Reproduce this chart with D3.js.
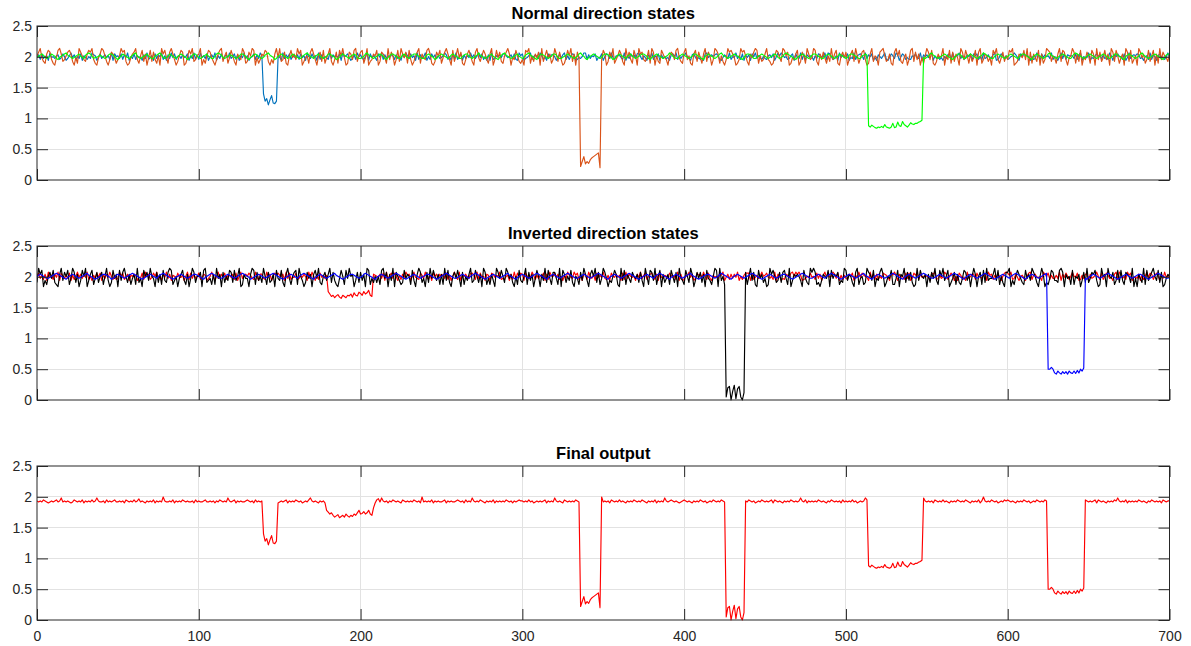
<!DOCTYPE html>
<html>
<head>
<meta charset="utf-8">
<script src="https://cdn.jsdelivr.net/npm/d3@7"></script>
<style>
  body { margin: 0; background: #fff; }
  svg { display: block; font-family: "Liberation Sans", Arial, Helvetica, sans-serif; }
  .grid line { stroke: #e2e2e2; stroke-width: 1; shape-rendering: crispEdges; }
  .axis line { stroke: #262626; }
  .axis text { fill: #262626; font-size: 14px; }
  .box { fill: none; stroke: #262626; stroke-width: 1; }
  .title { font-size: 16.5px; font-weight: bold; fill: #000; }
  .trace { fill: none; stroke-width: 1.15; stroke-linejoin: round; }
</style>
</head>
<body>
<svg id="chart" width="1191" height="646"></svg>
<script>
// ---- axes / labels ----
const xTicks = [0, 100, 200, 300, 400, 500, 600, 700];
const yTicks = [0, 0.5, 1, 1.5, 2, 2.5];
const panelTitles = ["Normal direction states", "Inverted direction states", "Final output"];
const nSamples = 701;

// ---- baseline noise, one digit per sample (4.5 = centre level) ----
const normBlueNoise = `
4728356194 5367248513 6947253816 4253976148 3574629185
6382749153 8264517392 4618375926 1739482563 7458163927
2946381574 9163825749 3582716493 6145827396 8372915464
5193748265 3728461953 8461927354 2937564819 5684137295
7325918464 1849273657 6273518496 3846192735 9152847363
4697251839 2581736494 7369482517 1923657488 6457382196
8134692575 3962518477 5148379262 6871243599 2736581448
1587394266 7429163857 3895264174 9264817353 4178592636
6953178424 2318946757 8621475392 5493628174 7185936425
3267481596 9745236818 4392817565 1638745929 8523619474
5814392678 6293758141 7536921486 3971586242 2658439175
7489163524 1537829466 9362475818 6825193473 4791258636
2356974185 8674152397 1847563925 4159382766 6382791544
9143685727 3429617585 5281493676 8734156292 7516834259
4678259313 8195372646 6924817535 2683941578 1957364824`;

const normOrangeNoise = `
5794216873 1048962357 8620419753 2687931046 9852037641
3597820146 7931582604 8273150968 4179630258 7014869235
6903158742 0368925714 8520643971 2759804136 5872031694
9237105846 3968024517 9630572814 6920371859 4017638925
7814902365 8027641937 5038296471 8302579164 3896102758
1479630825 9471036852 0794258631 6903847215 7960438521
3087915264 7092584613 9627301485 9260741853 0658927413
8602749135 8620947318 5096732481 9705218643 0576389421
7935106827 4169275039 8615203978 6401397852 0647981523
6932015874 2985701436 8027519634 9820637415 2936810574
7036829514 7830169254 0789523610 7958214603 8927360415
9738102645 9053817264 0973851624 8079136524 0869314725
3879012654 8390716428 0613987254 1692873045 9716280437
5186093724 8360972851 4609728135 0974613825 8061937542
6094738215 9037641728 5392016847 9025631874 6290843175`;

const normGreenNoise = `
4567643457 6532456786 5434567543 6787534456 5434677653
2457654346 7854345675 4335678643 4576543567 6542346775
4345675433 5787643456 6543457765 3245676543 4678654235
6765434576 5433567865 4356754345 7765423467 6543567643
3457865434 5676532457 7654346754 3567765433 4676542356
7654346765 4335677543 4568654345 6754324678 6543456754
3467865432 5676543457 7643345676 5434578653 2456765434
6776542346 7654356754 3456776532 4567654345 6875433567
6543457765 4325676543 4578654345 6765432467 7653345676
5434567643 4578765432 4567654346 7765433567 6543457654
3467765433 5676543457 7654324676 5434567865 4325676543
4578654345 6765432457 7643356765 4345687654 3356765434
5676543467 7654325676 5434578654 3456765433 5787654345
6765434567 6543457765 4325676543 4578654345 6765432467
7653345676 5434567643 4578765432 4567654346 7765433567`;

const invRedNoise = `
5836271946 2749185363 8162594737 4925163848 1637495262
3958247165 7614382957 2485936174 9371652844 6159283735
8247613595 1593748266 4728159367 5863294177 3294715868
6571938244 8236475193 9517284636 2648371955 7382564914
1964528376 5473819268 3851627496 7159432863 9426185737
4738261595 2916574388 6293845176 1874659232 5617293848
7185349626 3648172955 8472516396 4396825177 2953718464
9326185474 6182937545 1749368257 8527194365 3864529171
2659471386 7495283164 5386914727 3749152688 8172463595
6843529175 1327648959 7961235484 5283716949 4597381626
3275816494 8654193727 2538764196 9617452838 1386927455
5418792363 4972586151 8624193577 2845367196 7263841589
8692374156 3158926744 4197582633 6391748525 9548126377
1734695282 5863417929 7352968144 3716259487 2685173946
4925183767 9281654353 6143729585 8479362114 5317948626`;

const invBlackNoise = `
2968031574 8210693758 1497260385 9036814725 7159302846
0837952614 6192408573 9540726183 2798135046 8316049725
5708923416 1946072538 7283590164 4069817352 9517236084
3820694157 8195302746 0684921573 6927310485 1849560372
7360981425 2518947063 9075312846 5183069724 0729485361
6193820574 8407153692 3852609714 1630974852 9746205183
2591736048 5063928417 7419086253 8205417396 3068592714
9740325861 0938164275 4627309518 7391580624 6185270943
1852960374 7260843159 8093517426 0546293871 5937108462
4019685237 2784190365 6530842197 9712036548 0846571329
8365207914 5129763804 3796025481 1480659273 7201938546
0627493185 9358024716 2148736059 6057182934 4693815207
7903158642 1846397520 5960214873 3289706451 8154603729
2476830195 6095471382 8317652904 0642918357 9538270146
5180927463 3721589064 1209483675 7863105294 2970641538`;

const invBlueNoise = `
5676543345 6787654324 5676543456 7865432345 6776542346
7654345678 7654323456 7654356787 6543234567 6543456776
5432456787 6543345676 5434567876 5423456765 4345678765
4323456765 4356787654 3245676543 4567865432 3456776543
4578765432 4567654345 6787654323 4567654345 6776543234
5678765433 4567654356 7876543234 5676543456 7865432456
7654345678 7654324567 6543456787 6543345676 5434567876
5432456765 4345678765 4323456765 4356787654 3245676543
4567865432 3456776543 4578765432 4567654345 6787654323
4567654345 6776543234 5678765433 4567654356 7876543234
5676543456 7865432456 7654345678 7654324567 6543456787
6543345676 5434567876 5432456765 4345678765 4323456765
4356787654 3245676543 4567865432 3456776543 4578765432
4567654345 6787654323 4567654345 6776543234 5678765433
4567654356 7876543234 5676543456 7865432456 7654345678`;

const finalNoise = `
5454654345 4564584545 4346545463 5454645854 4536454564
4545365454 6457454354 5463545495 4454635454 6545445364
5445644545 3546545485 4563545445 6545364545 4594545463
4545635454 6545345468 5454354549 6454534546 5464545354
6545435465 4548545354 6545436545 4546545394 5454635454
4563545445 6545364548 5454654354 5463545454 6545354565
5454645345 4545635454 8545436545 4546545354 5463545459
4545365454 6454354546 5454654354 5463545485 4565454345
6545435454 6545345465 4546545394 5454635454 6545345465
4545636545 4354546545 4585463545 4546545435 4654545364
5454645345 4586545436 5454546545 3545463545 4546545485
4545365454 6454354546 5454654354 5463595454 6545345465
6545435454 6545345465 4546545354 5454635494 6545345465
4545636545 4354546585 4546354545 4654543546 5454536545
5454645345 4545635454 6545436545 4546545354 5463545459`;

// ---- dips (low state samples) ----
const normBlueDipStart = 140;
const normBlueDip = [1.4, 1.28, 1.32, 1.22, 1.3, 1.37, 1.25, 1.24, 1.28];
const normOrangeDipStart = 336;
const normOrangeDip = [0.22, 0.3, 0.38, 0.26, 0.3, 0.27, 0.33, 0.36, 0.38, 0.4, 0.42, 0.44, 0.2];
const normGreenDipStart = 514;
const normGreenDip = [0.88, 0.86, 0.89, 0.87, 0.85, 0.84, 0.86, 0.85, 0.87, 0.85,
                      0.9, 0.86, 0.85, 0.84, 0.86, 0.92, 0.85, 0.86, 0.94, 0.88,
                      0.87, 0.95, 0.9, 0.88, 0.86, 0.89, 0.93, 0.91, 0.9, 0.92,
                      0.92, 0.94, 0.95, 0.97];
const invRedDipStart = 180;
const invRedDip = [1.76, 1.72, 1.68, 1.7, 1.66, 1.69, 1.71, 1.67, 1.65, 1.7,
                   1.68, 1.66, 1.7, 1.69, 1.72, 1.67, 1.74, 1.7, 1.69, 1.75,
                   1.73, 1.7, 1.76, 1.72, 1.74, 1.78, 1.7, 1.68];
const invBlackDipStart = 426;
const invBlackDip = [0.05, 0.2, 0.22, 0.0, 0.14, 0.24, 0.02, 0.18, 0.22, 0.05, 0.0, 0.12];
const invBlueDipStart = 625;
const invBlueDip = [0.5, 0.5, 0.53, 0.5, 0.44, 0.42, 0.47, 0.44, 0.42, 0.46,
                    0.43, 0.46, 0.42, 0.47, 0.44, 0.43, 0.47, 0.43, 0.48, 0.44,
                    0.5, 0.47, 0.52];
const finalMidStart = 178;
const finalMid = [1.9, 1.78, 1.75, 1.72, 1.74, 1.7, 1.67, 1.69, 1.71, 1.66,
                  1.68, 1.7, 1.67, 1.72, 1.69, 1.67, 1.7, 1.68, 1.72, 1.7,
                  1.74, 1.78, 1.72, 1.73, 1.76, 1.72, 1.74, 1.78, 1.72, 1.7,
                  1.82, 1.9, 1.95, 1.97];

function buildSeries(noise, center, step, dips) {
    const digits = noise.replace(/\s+/g, "").slice(0, nSamples);
    const vals = Array.from(digits, d => center + (+d - 4.5) * step);
    dips.forEach(([start, arr]) => arr.forEach((v, i) => { vals[start + i] = v; }));
    return vals.map((v, i) => [i, v]);
}

const panels = [
    [
        {color: "#0072BD", data: buildSeries(normBlueNoise, 1.995, 0.015, [[normBlueDipStart, normBlueDip]])},
        {color: "#D95319", data: buildSeries(normOrangeNoise, 2.0, 0.03, [[normOrangeDipStart, normOrangeDip]])},
        {color: "#00FF00", data: buildSeries(normGreenNoise, 2.0, 0.018, [[normGreenDipStart, normGreenDip]])}
    ],
    [
        {color: "#FF0000", data: buildSeries(invRedNoise, 2.0, 0.017, [[invRedDipStart, invRedDip]])},
        {color: "#000000", data: buildSeries(invBlackNoise, 1.99, 0.033, [[invBlackDipStart, invBlackDip]])},
        {color: "#0000FF", data: buildSeries(invBlueNoise, 2.0, 0.016, [[invBlueDipStart, invBlueDip]])}
    ],
    [
        {color: "#FF0000", data: buildSeries(finalNoise, 1.925, 0.016, [
            [normBlueDipStart, normBlueDip],
            [finalMidStart, finalMid],
            [normOrangeDipStart, normOrangeDip],
            [invBlackDipStart, invBlackDip],
            [normGreenDipStart, normGreenDip],
            [invBlueDipStart, invBlueDip]
        ])}
    ]
];

// ---- layout ----
const left = 37, right = 1169.5;
const panelTops = [26, 246, 466];
const panelHeight = 154;
const tickLen = 11;

const svg = d3.select("#chart");
const x = d3.scaleLinear().domain([0, 700]).range([left, right]);

panels.forEach((series, k) => {
    const top = panelTops[k];
    const bottom = top + panelHeight;
    const y = d3.scaleLinear().domain([0, 2.5]).range([bottom, top]);
    const g = svg.append("g");

    // grid
    const grid = g.append("g").attr("class", "grid");
    grid.selectAll(".gx")
        .data(xTicks.slice(1, -1))
        .join("line")
        .attr("x1", d => x(d)).attr("x2", d => x(d))
        .attr("y1", top).attr("y2", bottom);
    grid.selectAll(".gy")
        .data(yTicks.slice(1, -1))
        .join("line")
        .attr("class", "gy")
        .attr("x1", left).attr("x2", right)
        .attr("y1", d => y(d)).attr("y2", d => y(d));

    // traces
    const clipId = "clip" + k;
    g.append("clipPath").attr("id", clipId)
        .append("rect")
        .attr("x", left).attr("y", top - 1)
        .attr("width", right - left).attr("height", panelHeight + 2);

    const line = d3.line().x(d => x(d[0])).y(d => y(d[1]));
    g.append("g")
        .attr("clip-path", `url(#${clipId})`)
        .selectAll("path")
        .data(series)
        .join("path")
        .attr("class", "trace")
        .attr("stroke", d => d.color)
        .attr("d", d => line(d.data));

    // axes, ticks pointing inwards on all four sides
    const xb = d3.axisBottom(x).tickValues(xTicks).tickSizeInner(-tickLen).tickSizeOuter(0).tickPadding(11);
    if (k < 2) xb.tickFormat("");
    g.append("g").attr("class", "axis")
        .attr("transform", `translate(0,${bottom})`)
        .call(xb)
        .call(a => a.select(".domain").remove());

    g.append("g").attr("class", "axis")
        .attr("transform", `translate(0,${top})`)
        .call(d3.axisTop(x).tickValues(xTicks).tickSizeInner(-tickLen).tickSizeOuter(0).tickFormat(""))
        .call(a => a.select(".domain").remove());

    g.append("g").attr("class", "axis")
        .attr("transform", `translate(${left},0)`)
        .call(d3.axisLeft(y).tickValues(yTicks).tickSizeInner(-tickLen).tickSizeOuter(0)
            .tickPadding(5).tickFormat(d3.format("")))
        .call(a => a.select(".domain").remove());

    g.append("g").attr("class", "axis")
        .attr("transform", `translate(${right},0)`)
        .call(d3.axisRight(y).tickValues(yTicks).tickSizeInner(-tickLen).tickSizeOuter(0).tickFormat(""))
        .call(a => a.select(".domain").remove());

    g.append("rect")
        .attr("class", "box")
        .attr("x", left).attr("y", top)
        .attr("width", right - left).attr("height", panelHeight);

    g.append("text")
        .attr("class", "title")
        .attr("x", (left + right) / 2)
        .attr("y", top - 7)
        .attr("text-anchor", "middle")
        .text(panelTitles[k]);
});
</script>
</body>
</html>
